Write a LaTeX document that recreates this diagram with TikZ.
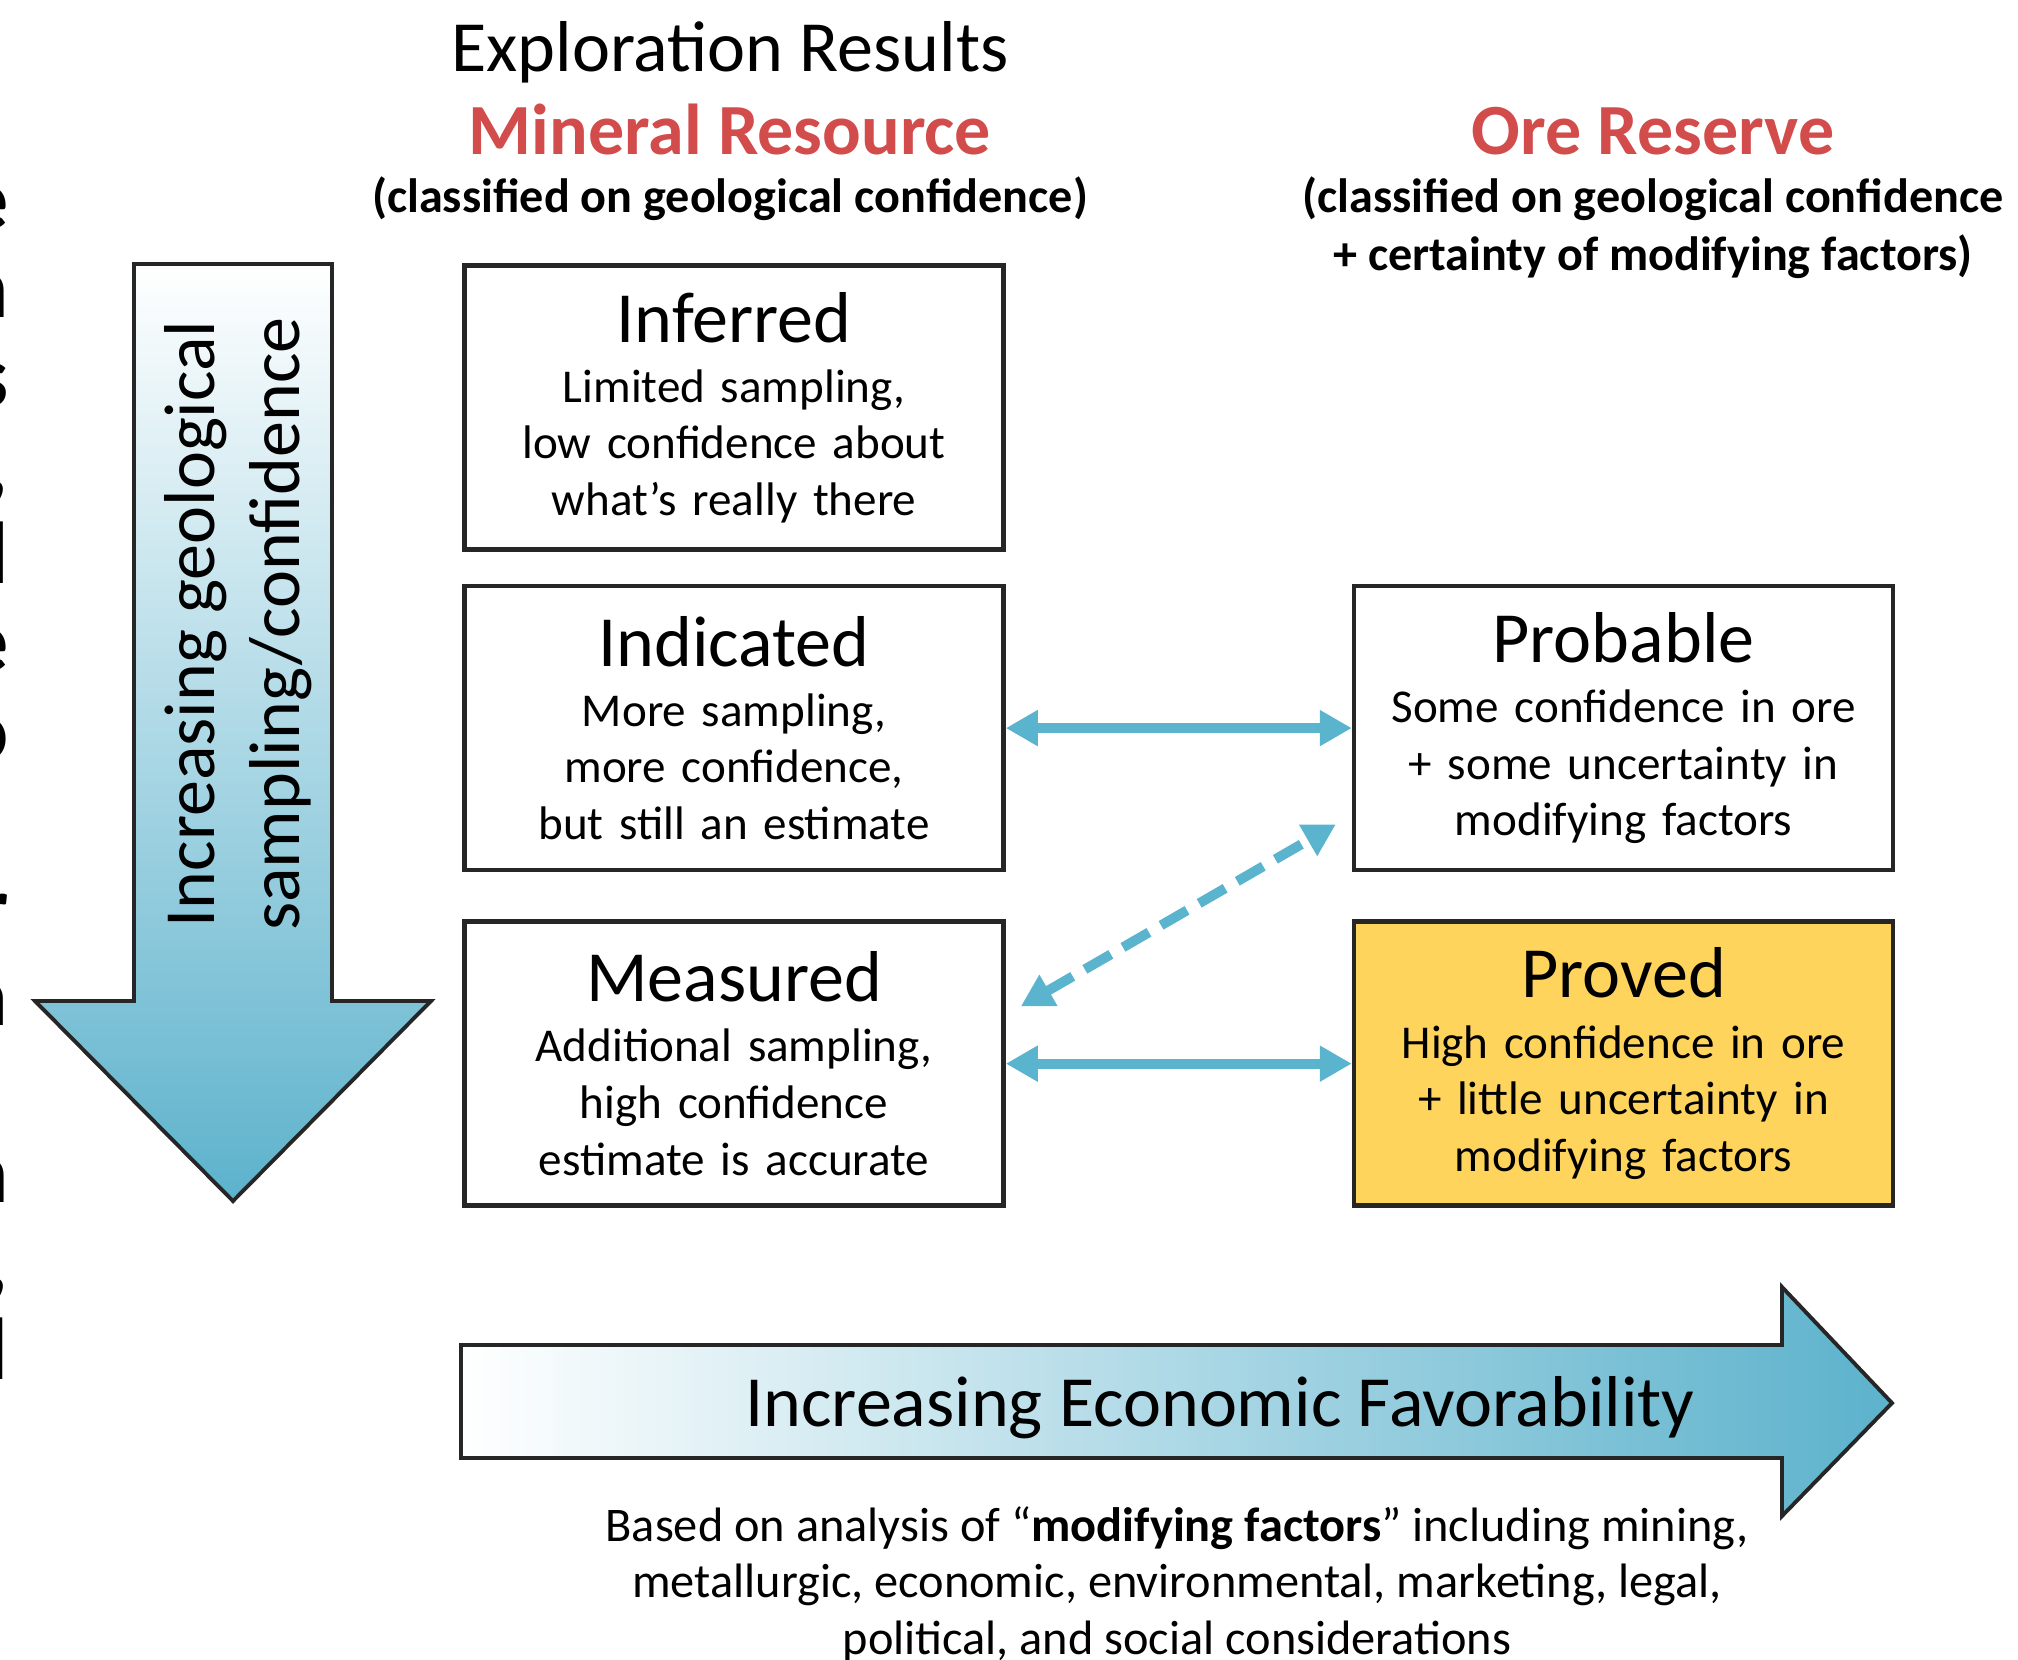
\documentclass[tikz,border=0pt]{standalone}
\usepackage{fontspec}
\setmainfont{Carlito}
\usetikzlibrary{positioning,arrows.meta}

\definecolor{linkblue}{RGB}{91,180,206}
\definecolor{shadeblue}{RGB}{92,178,204}
\definecolor{headred}{RGB}{210,76,76}
\definecolor{provedfill}{RGB}{255,212,92}

\newcommand{\titlefont}{\fontsize{20.5}{24}\selectfont}
\newcommand{\bodyfont}{\fontsize{13.4}{16.1}\selectfont}
\newcommand{\notefont}{\fontsize{13.7}{16.4}\selectfont\bfseries}

\tikzset{
  classbox/.style={draw=black!85, line width=1.3pt, fill=white, minimum width=5.39cm, minimum height=2.84cm,
    text width=5.3cm, align=center, inner sep=0pt, font=\bodyfont},
  link/.style={draw=linkblue, line width=2.8pt, {Triangle[length=3.2mm,width=3.4mm]}-{Triangle[length=3.2mm,width=3.4mm]}},
  bigarrow/.style={draw=black!85, line width=1.1pt},
}

\begin{document}
\begin{tikzpicture}
    \useasboundingbox (0,0) rectangle (20.18,-16.59);

    % letters cut off at the left edge
    \foreach \ch/\k [count=\i] in {e/0,n/1,s/2,{,}/3,d/4,e/5,o/6,r/8,a/9,n/11,{,}/12,l/13}
        \node[anchor=base east, inner sep=0pt, font=\fontsize{25}{25}\selectfont\bfseries] (frag\i) at (0.09,{-2.29-0.885*\k}) {\ch};

    % headings
    \node[anchor=base, font=\titlefont] (explo) at (7.30,-0.71) {Exploration Results};
    \node[anchor=base, font=\titlefont\bfseries, text=headred] (minres) at (7.30,-1.54) {Mineral Resource};
    \node[anchor=base, font=\notefont] (minnote) at (7.30,-2.12) {(classified on geological confidence)};
    \node[anchor=base, font=\titlefont\bfseries, text=headred] (orres) at (16.53,-1.54) {Ore Reserve};
    \node[anchor=north, inner sep=0pt, align=center, font=\notefont] (ornote) at (16.53,-1.76)
        {(classified on geological confidence\\+ certainty of modifying factors)};

    % geological confidence arrow
    \draw[bigarrow, top color=white, middle color=shadeblue!30, bottom color=shadeblue] (1.34,-2.64) -- (3.32,-2.64)
        -- (3.32,-10.01) -- (4.31,-10.01) -- (2.33,-12.01) -- (0.35,-10.01) -- (1.34,-10.01) -- cycle;
    \node[rotate=90, align=center, font=\fontsize{20.5}{24.2}\selectfont] (geoconf) at (2.38,-6.24)
        {Increasing geological\\sampling/confidence};

    % classification boxes
    \node[classbox] (inf) at (7.34,-4.075) {{\titlefont Inferred}\\[1pt]Limited sampling,\\low confidence about\\what’s really there};
    \node[classbox, below=0.32cm of inf] (ind) {{\titlefont Indicated}\\[1pt]More sampling,\\more confidence,\\but still an estimate};
    \node[classbox, below=0.47cm of ind] (meas) {{\titlefont Measured}\\[1pt]Additional sampling,\\high confidence\\estimate is accurate};
    \node[classbox, right=3.46cm of ind] (prob) {{\titlefont Probable}\\[1pt]Some confidence in ore\\+ some uncertainty in\\modifying factors};
    \node[classbox, right=3.46cm of meas, fill=provedfill] (prov) {{\titlefont Proved}\\[1pt]High confidence in ore\\+ little uncertainty in\\modifying factors};

    % links
    \draw[link] (ind.east) -- (prob.west);
    \draw[link] (meas.east) -- (prov.west);
    \draw[link, dash pattern=on 3mm off 1.4mm] ([xshift=0.15cm,yshift=-0.87cm]meas.north east)
        -- ([xshift=-0.16cm,yshift=0.48cm]prob.south west);

    % economic favorability arrow
    \draw[bigarrow, left color=white, middle color=shadeblue!33, right color=shadeblue] (4.61,-13.45) -- (17.82,-13.45)
        -- (17.82,-12.87) -- (18.92,-14.03) -- (17.82,-15.16) -- (17.82,-14.58) -- (4.61,-14.58) -- cycle;
    \node[anchor=base, font=\titlefont] (econ) at (12.20,-14.26) {Increasing Economic Favorability};
    \node[anchor=north, inner sep=0pt, align=center, font=\fontsize{13.75}{16}\selectfont] (modnote) at (11.77,-15.06)
        {Based on analysis of “\textbf{modifying factors}” including mining,\\metallurgic, economic, environmental, marketing, legal,\\political, and social considerations};
\end{tikzpicture}
\end{document}
